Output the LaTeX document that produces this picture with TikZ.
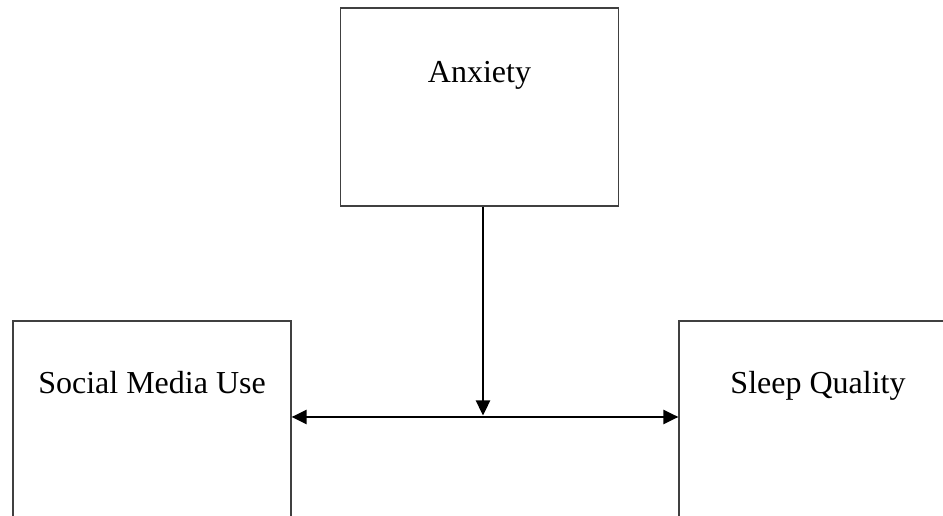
\documentclass[tikz,border=0pt]{standalone}
\usepackage{fontspec}
\setmainfont{Liberation Serif}
\usetikzlibrary{arrows.meta,calc}
\begin{document}
\begin{tikzpicture}[x=1pt,y=1pt,
  box/.style={draw=black!75, line width=1.2pt, rectangle, minimum width=278pt, minimum height=198pt, inner sep=0pt},
  lbl/.style={anchor=base, inner sep=0pt, font=\fontsize{32}{37}\selectfont},
  conn/.style={line width=2.4pt, {Triangle[length=15pt,width=14pt]}-{Triangle[length=15pt,width=14pt]}},
  down/.style={line width=2.4pt, -{Triangle[length=15pt,width=14pt]}}]
\useasboundingbox (0,0) rectangle (943,516);
\clip (0,0) rectangle (943,516);
\node[box] (anx) at (479.5,409) {};
\node[box] (smu) at (152,96) {};
\node[box] (sq) at (818,96) {};
\node[lbl] (anxt) at ($(anx.north)+(0,-75)$) {Anxiety};
\node[lbl] (smut) at ($(smu.north)+(0,-73)$) {Social Media Use};
\node[lbl] (sqt) at ($(sq.north)+(0,-73)$) {Sleep Quality};
\coordinate (mid) at (483,99);
\draw[conn] (smu.east |- mid) -- (sq.west |- mid);
\draw[down] (anx.south -| mid) -- ($(mid)+(0,1.5)$);
\end{tikzpicture}
\end{document}
